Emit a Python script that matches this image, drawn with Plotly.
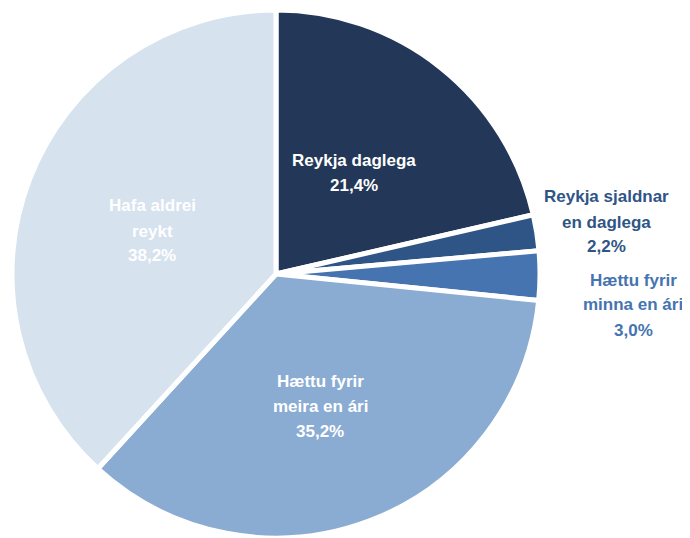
import plotly.graph_objects as go

labels = ["Reykja daglega", "Reykja sjaldnar en daglega", "Hættu fyrir minna en ári",
          "Hættu fyrir meira en ári", "Hafa aldrei reykt"]
label_lines = [["Reykja daglega"], ["Reykja sjaldnar", "en daglega"], ["Hættu fyrir", "minna en ári"],
               ["Hættu fyrir", "meira en ári"], ["Hafa aldrei", "reykt"]]
values = [21.4, 2.2, 3.0, 35.2, 38.2]

colors = ["#233858", "#2F5586", "#4574B0", "#8AACD3", "#D6E2EE"]
text_colors = ["#FFFFFF", "#2F5586", "#4574B0", "#FFFFFF", "#FFFFFF"]

# page body has an 8px margin; positions below are in figure pixels
OFF = 8
label_pos = [(354 - OFF, 173 - OFF), (606 - OFF, 222 - OFF), (633 - OFF, 305 - OFF),
             (320 - OFF, 406 - OFF), (152 - OFF, 231 - OFF)]
LINE_H = 25

W, H = 690, 538
cx, cy, r = 276 - OFF, 274 - OFF, 264

fig = go.Figure(go.Pie(
    labels=labels, values=values, sort=False, direction="clockwise", rotation=0,
    marker=dict(colors=colors, line=dict(color="white", width=5)),
    textinfo="none", hoverinfo="label+percent", showlegend=False,
    domain=dict(x=[(cx - r) / W, (cx + r) / W], y=[1 - (cy + r) / H, 1 - (cy - r) / H]),
))

FONT = "Liberation Sans, Arial, sans-serif"
for lines, v, col, (px, py) in zip(label_lines, values, text_colors, label_pos):
    all_lines = lines + [f"{v:.1f}".replace(".", ",") + "%"]
    n = len(all_lines)
    for i, line in enumerate(all_lines):
        yy = py + (i - (n - 1) / 2) * LINE_H
        fig.add_annotation(x=px / W, y=1 - yy / H, xref="paper", yref="paper", text=f"<b>{line}</b>",
                           showarrow=False, align="center", xanchor="center", yanchor="middle",
                           font=dict(family=FONT, size=17, color=col))

fig.update_layout(width=W, height=H, margin=dict(l=0, r=0, t=0, b=0),
                  paper_bgcolor="white", plot_bgcolor="white")
fig.write_html("out.html")
